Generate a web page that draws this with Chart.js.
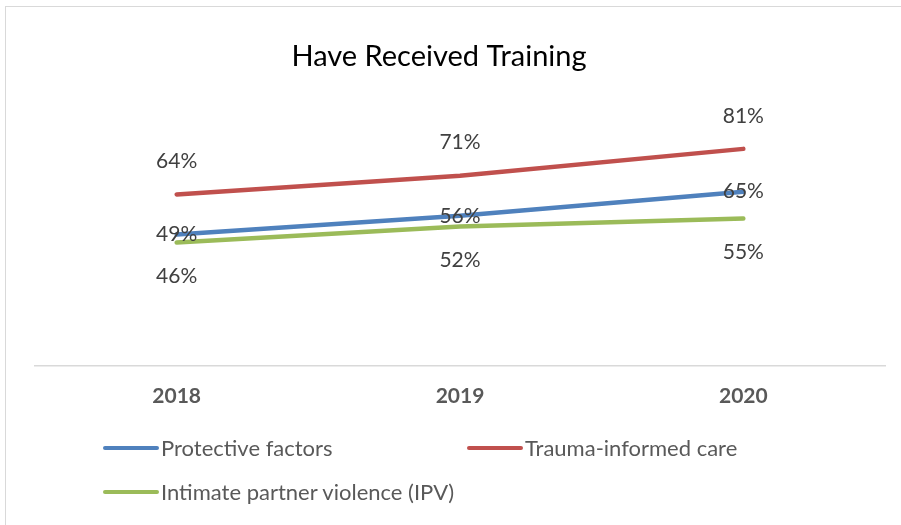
<!DOCTYPE html>
<html>
<head>
<meta charset="utf-8">
<script src="https://cdn.jsdelivr.net/npm/chart.js@4.4.1/dist/chart.umd.min.js"></script>
<style>
    html, body { margin: 0; padding: 0; background: #fff; }
    body { width: 901px; height: 525px; overflow: hidden; position: relative; font-family: Lato, "Open Sans", sans-serif; }
    #frame { position: absolute; left: 5px; top: 6px; width: 920px; height: 540px; border: 1px solid #d9d9d9; box-sizing: border-box; }
    #wrap { position: absolute; left: 0; top: 0; width: 901px; height: 525px; }
    .legend-item { position: absolute; display: flex; align-items: center; font-size: 22px; color: #595959; }
    .legend-item span.sw { display: inline-block; width: 56px; height: 4px; border-radius: 2px; margin-right: 2px; }
</style>
</head>
<body>
<div id="frame"></div>
<div id="wrap"><canvas id="trainingChart" width="901" height="525"></canvas></div>
<div id="legend"></div>
<script>
// ========================
// DADOS
// ========================
const years = ['2018', '2019', '2020'];
const protectiveFactors = [49, 56, 65];
const traumaInformedCare = [64, 71, 81];
const intimatePartnerViolence = [46, 52, 55];

const seriesNames = ['Protective factors', 'Trauma-informed care', 'Intimate partner violence (IPV)'];
const seriesColors = ['#4f81bd', '#c0504d', '#9bbb59'];
// onde fica o rótulo de cada série: acima, no ponto, abaixo
const labelShift = [0, -33, 34];

const chartTitle = 'Have Received Training';

// ========================
// PLUGIN RÓTULOS + TÍTULO
// ========================
const labelsPlugin = {
    id: 'valueLabels',
    afterDatasetsDraw(chart) {
        const ctx = chart.ctx;
        ctx.save();
        ctx.font = '21px Lato, "Open Sans", sans-serif';
        ctx.fillStyle = '#404040';
        ctx.textAlign = 'center';
        ctx.textBaseline = 'middle';

        chart.data.datasets.forEach((ds, i) => {
            const meta = chart.getDatasetMeta(i);
            meta.data.forEach((pt, j) => {
                ctx.fillText(ds.data[j] + '%', pt.x, pt.y + labelShift[i]);
            });
        });

        // título
        ctx.font = '29px Lato, "Open Sans", sans-serif';
        ctx.fillStyle = '#000';
        ctx.fillText(chartTitle, 439, 57);
        ctx.restore();
    }
};

// ========================
// GRÁFICO
// ========================
const ctx = document.getElementById('trainingChart').getContext('2d');

new Chart(ctx, {
    type: 'line',
    data: {
        labels: years,
        datasets: [protectiveFactors, traumaInformedCare, intimatePartnerViolence].map((vals, i) => ({
            label: seriesNames[i],
            data: vals,
            borderColor: seriesColors[i],
            backgroundColor: seriesColors[i],
            borderWidth: 4.5,
            borderCapStyle: 'round',
            pointRadius: 0,
            tension: 0
        }))
    },
    options: {
        responsive: false,
        animation: false,
        layout: {
            padding: { left: 35, right: 16, top: 98, bottom: 106 }
        },
        plugins: {
            legend: { display: false },
            title: { display: false },
            tooltip: { enabled: false }
        },
        scales: {
            y: {
                display: false,
                min: 0,
                max: 100
            },
            x: {
                offset: true,
                grid: { display: false },
                border: { display: true, color: '#d9d9d9', width: 1.5 },
                ticks: {
                    padding: 10,
                    color: '#595959',
                    font: { family: 'Lato, "Open Sans", sans-serif', size: 21, weight: 'bold' }
                }
            }
        }
    },
    plugins: [labelsPlugin]
});

// ========================
// LEGENDA
// ========================
const legendPos = [[103, 448], [467, 448], [103, 492]];
const legendEl = document.getElementById('legend');

seriesNames.forEach((name, i) => {
    const item = document.createElement('div');
    item.className = 'legend-item';
    item.style.left = legendPos[i][0] + 'px';
    item.style.top = (legendPos[i][1] - 14) + 'px';
    item.innerHTML = `<span class="sw" style="background:${seriesColors[i]}"></span>${name}`;
    legendEl.appendChild(item);
});
</script>
</body>
</html>
